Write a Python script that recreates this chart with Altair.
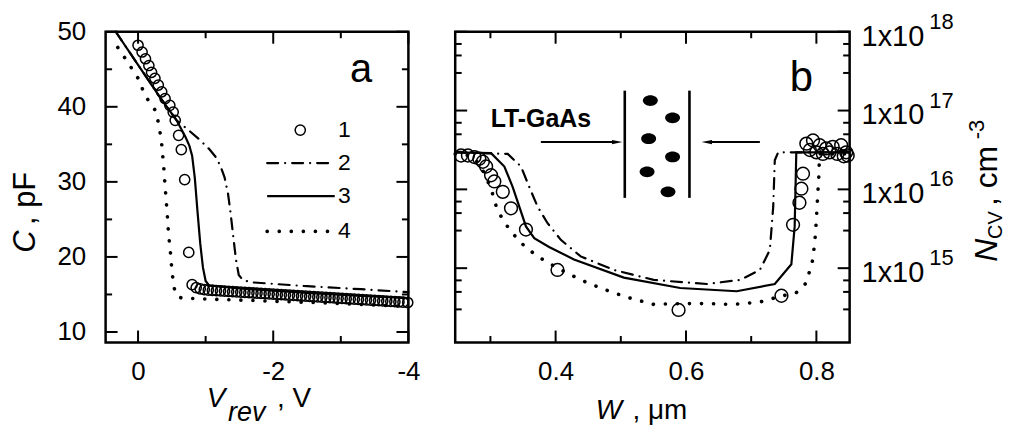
import altair as alt
import pandas as pd

FONT = "Liberation Sans"
NB = "\u00a0"

# ================= Panel a : C vs V_rev =================
a_meas_v = [0.0, -0.06, -0.11, -0.16, -0.20, -0.25, -0.30, -0.35, -0.40, -0.47, -0.52, -0.55,
            -0.60, -0.64, -0.69, -0.75, -0.80,
            -0.86, -0.92, -0.98, -1.04, -1.10, -1.16, -1.22, -1.28, -1.34, -1.40, -1.46, -1.52,
            -1.58, -1.64, -1.70, -1.76, -1.82, -1.88, -1.94, -2.00, -2.06, -2.12, -2.18, -2.24,
            -2.30, -2.36, -2.42, -2.48, -2.54, -2.60, -2.66, -2.72, -2.78, -2.84, -2.90, -2.96,
            -3.02, -3.08, -3.14, -3.20, -3.26, -3.32, -3.38, -3.44, -3.50, -3.56, -3.62, -3.68,
            -3.74, -3.80, -3.86, -3.92, -3.99]
a_meas_c = [48.2, 47.3, 46.4, 45.5, 44.6, 43.8, 42.9, 42.0, 41.1, 40.2, 39.3, 38.2,
            36.2, 34.3, 30.3, 20.6, 16.3,
            15.9, 15.75, 15.65, 15.58, 15.54, 15.50, 15.47, 15.44, 15.40, 15.37, 15.34, 15.30,
            15.27, 15.24, 15.20, 15.17, 15.14, 15.10, 15.07, 15.04, 15.00, 14.97, 14.94, 14.90,
            14.87, 14.84, 14.80, 14.77, 14.74, 14.70, 14.67, 14.64, 14.60, 14.57, 14.54, 14.50,
            14.47, 14.44, 14.40, 14.37, 14.34, 14.30, 14.27, 14.24, 14.20, 14.17, 14.14, 14.10,
            14.07, 14.04, 14.00, 13.97, 13.93]

a_l2_v = [0.33, 0.0, -0.30, -0.57, -0.72, -0.90, -1.05, -1.15, -1.22, -1.28, -1.33, -1.37,
          -1.41, -1.45, -1.49, -1.55, -1.70, -2.50, -3.30, -4.00]
a_l2_c = [50.0, 45.6, 41.6, 38.2, 37.1, 35.7, 34.4, 33.3, 32.1, 30.6, 28.5, 25.8,
          22.6, 19.6, 17.6, 16.9, 16.6, 16.1, 15.7, 15.3]
a_l3_v = [0.33, 0.0, -0.30, -0.57, -0.70, -0.76, -0.80, -0.84, -0.88, -0.92, -0.96, -1.00,
          -1.05, -1.50, -2.50, -3.30, -4.00]
a_l3_c = [50.0, 45.6, 41.6, 38.2, 36.0, 34.8, 33.5, 30.5, 26.0, 21.8, 18.6, 16.8,
          16.2, 15.8, 15.2, 14.8, 14.5]
a_l4_v = [0.30, 0.15, 0.0, -0.11, -0.25, -0.31, -0.35, -0.38, -0.40, -0.43, -0.45, -0.48,
          -0.50, -0.53, -0.57, -0.65, -1.00, -2.00, -3.00, -4.00]
a_l4_c = [47.9, 45.9, 43.8, 41.4, 39.6, 37.6, 35.0, 32.0, 29.4, 26.0, 23.2, 20.5,
          18.3, 16.0, 14.8, 14.5, 14.4, 14.1, 13.8, 13.4]

a_x_major = [0, -2, -4]
a_x_minor = [-1, -3]
a_y_major = [10, 20, 30, 40, 50]
a_y_minor = [15, 25, 35, 45]

a_leg_rows = [36.9, 32.5, 28.1, 23.4]
a_leg_labels = ["1", "2", "3", "4"]
a_leg_line_from = -1.91
a_leg_line_to = -2.91
a_leg_circle_v = -2.40
a_leg_label_v = -2.96
a_letter = {"t": "a", "x": -3.30, "y": 43.3}

# ================= Panel b : N_CV vs W =================
b_meas_w = [0.255, 0.2655, 0.2756, 0.283, 0.2884, 0.2934, 0.301, 0.306, 0.319, 0.3316,
            0.3545, 0.4029, 0.5886, 0.7464, 0.7642, 0.774, 0.777, 0.7795,
            0.7846, 0.790, 0.7948, 0.800, 0.805, 0.810, 0.815, 0.820, 0.825, 0.832,
            0.838, 0.842, 0.8457, 0.848]
b_meas_n = [2.69e16, 2.69e16, 2.57e16, 2.45e16, 2.24e16, 1.95e16, 1.51e16, 1.26e16, 9.3e15, 5.75e15,
            3.09e15, 9.5e14, 2.95e14, 4.47e14, 3.55e15, 6.76e15, 1.02e16, 1.58e16,
            3.80e16, 3.16e16, 4.17e16, 2.95e16, 3.63e16, 2.82e16, 3.31e16, 2.95e16, 3.47e16, 2.82e16,
            3.63e16, 2.63e16, 2.95e16, 2.69e16]

b_l2_w = [0.246, 0.3265, 0.3469, 0.3596, 0.3724, 0.3877, 0.408, 0.4385, 0.4894, 0.5505,
          0.632, 0.6831, 0.7133, 0.7286, 0.7338, 0.7362, 0.7414, 0.851]
b_l2_n = [2.95e16, 2.82e16, 1.95e16, 1.07e16, 6.03e15, 3.72e15, 2.29e15, 1.41e15, 9.5e14, 7.1e14,
          6.3e14, 7.1e14, 9.5e14, 1.70e15, 6.03e15, 2.34e16, 2.95e16, 2.95e16]
b_l3_w = [0.246, 0.301, 0.3214, 0.3342, 0.3443, 0.3545, 0.3672, 0.390, 0.4282, 0.5046,
          0.5911, 0.6777, 0.7362, 0.7616, 0.7667, 0.7692, 0.851]
b_l3_n = [2.95e16, 2.88e16, 1.95e16, 1.07e16, 6.03e15, 3.39e15, 2.40e15, 1.86e15, 1.29e15, 7.6e14,
          5.6e14, 5.1e14, 6.3e14, 1.12e15, 3.39e15, 2.95e16, 2.95e16]
b_l4_w = [0.246, 0.27, 0.285, 0.295, 0.301, 0.3087, 0.319, 0.3342, 0.352, 0.3724,
          0.403, 0.4385, 0.474, 0.5098, 0.5505, 0.5911, 0.632, 0.6724, 0.7133, 0.7438,
          0.7692, 0.7845, 0.7946, 0.7987, 0.8013, 0.8037, 0.8048, 0.851]
b_l4_n = [2.82e16, 2.69e16, 2.0e16, 1.32e16, 1.02e16, 6.17e15, 4.07e15, 2.75e15, 1.91e15, 1.41e15,
          1.0e15, 7.1e14, 5.4e14, 4.27e14, 3.47e14, 3.55e14, 3.55e14, 3.47e14, 3.72e14, 4.37e14,
          4.9e14, 6.5e14, 1.29e15, 2.75e15, 6.6e15, 1.45e16, 2.82e16, 2.82e16]

b_x_major = [0.4, 0.6, 0.8]
b_x_minor = [0.3, 0.5, 0.7]
b_y_major = [1e15, 1e16, 1e17, 1e18]
b_y_minor = [3e14, 5e14, 7e14, 3e15, 5e15, 7e15, 3e16, 5e16, 7e16, 3e17, 5e17, 7e17]
b_y_labels_exp = ["15", "16", "17", "18"]

# inset sketch (in data coordinates of panel b)
b_wall_w = [0.5061, 0.6053]
b_wall_top = 1.79e17
b_wall_bottom = 7.8e15
b_dots_w = [0.5453, 0.5794, 0.5427, 0.5794, 0.5403, 0.5724]
b_dots_n = [1.34e17, 8.1e16, 4.4e16, 2.58e16, 1.67e16, 9.3e15]
b_arrow_n = 3.98e16
b_arrow_left = (0.3774, 0.4945)
b_arrow_right = (0.7133, 0.6319)
b_label = {"t": "LT-GaAs", "x": 0.3774, "y": 7.9e16}
b_letter = {"t": "b", "x": 0.777, "y": 1.78e17}

# ================= geometry / styles =================
A_W, A_H = 304, 312
B_W, B_H = 396, 312
MAJ, MIN = 12, 6.5

STYLE = {
    "2": dict(strokeDash=[11, 7, 0.1, 7], strokeWidth=2.2, strokeCap="round"),
    "3": dict(strokeWidth=2.2),
    "4": dict(strokeDash=[0.1, 12], strokeWidth=3.6, strokeCap="round"),
}

xa = alt.Scale(domain=[0.48, -4.0], nice=False, zero=False)
ya = alt.Scale(domain=[8.6, 50.0], nice=False, zero=False)
xb = alt.Scale(domain=[0.246, 0.851], nice=False, zero=False)
yb = alt.Scale(type="log", domain=[1.14e14, 1e18], nice=False)

ax_xa = alt.Axis(values=a_x_major, ticks=False, tickSize=0, domain=False, grid=False,
                 labelFontSize=26, labelPadding=16, labelFlush=False,
                 labelExpr="toString(datum.value)", title=None)
ax_ya = alt.Axis(values=a_y_major, ticks=False, tickSize=0, domain=False, grid=False,
                 labelFontSize=26, labelPadding=20, title=None)
ax_xb = alt.Axis(values=b_x_major, ticks=False, tickSize=0, domain=False, grid=False,
                 labelFontSize=26, labelPadding=16, labelFlush=False, format=".1f", title=None)

PA = dict(xs=xa, xax=ax_xa, ys=ya, yax=ax_ya)
PB = dict(xs=xb, xax=ax_xb, ys=yb, yax=None)


def X(P, field="x"):
    return alt.X(f"{field}:Q", scale=P["xs"], axis=P["xax"])


def Y(P, field="y"):
    return alt.Y(f"{field}:Q", scale=P["ys"], axis=P["yax"])


def line_layer(xs, ys, style, P):
    df = pd.DataFrame({"x": xs, "y": ys, "i": list(range(len(xs)))})
    return alt.Chart(df).mark_line(color="black", **STYLE[style]).encode(
        x=X(P), y=Y(P), order="i:Q")


def circles(xs, ys, P, size):
    return alt.Chart(pd.DataFrame({"x": xs, "y": ys})).mark_point(
        shape="circle", filled=False, size=size, strokeWidth=1.5, color="black", opacity=1
    ).encode(x=X(P), y=Y(P))


def tick_layers(xmaj, xmin, ymaj, ymin, P, W, H):
    out = []
    for vals, L in ((xmaj, MAJ), (xmin, MIN)):
        base = alt.Chart(pd.DataFrame({"x": vals})).mark_rule(color="black", strokeWidth=2)
        out.append(base.encode(x=X(P), y=alt.value(H), y2=alt.value(H - L)))
        out.append(base.encode(x=X(P), y=alt.value(0), y2=alt.value(L)))
    for vals, L in ((ymaj, MAJ), (ymin, MIN)):
        base = alt.Chart(pd.DataFrame({"y": vals})).mark_rule(color="black", strokeWidth=2)
        out.append(base.encode(y=Y(P), x=alt.value(0), x2=alt.value(L)))
        out.append(base.encode(y=Y(P), x=alt.value(W), x2=alt.value(W - L)))
    return out


def ptext(text, x, y, size, style="normal", weight="normal", angle=0, align="left"):
    return alt.Chart(pd.DataFrame({"t": [text]})).mark_text(
        font=FONT, fontSize=size, fontStyle=style, fontWeight=weight, angle=angle,
        align=align, baseline="alphabetic", color="black"
    ).encode(x=alt.value(x), y=alt.value(y), text="t:N")


# ---------------- panel a layers ----------------
a_leg_lines = []
for lab, row in zip(a_leg_labels[1:], a_leg_rows[1:]):
    df = pd.DataFrame({"x": [a_leg_line_from], "x2": [a_leg_line_to], "y": [row]})
    a_leg_lines.append(alt.Chart(df).mark_rule(color="black", **STYLE[lab]).encode(
        x=X(PA), x2="x2:Q", y=Y(PA)))

a_leg_text = alt.Chart(pd.DataFrame({"x": [a_leg_label_v] * 4, "y": a_leg_rows, "t": a_leg_labels})).mark_text(
    font=FONT, fontSize=23, align="left", baseline="middle", color="black"
).encode(x=X(PA), y=Y(PA), text="t:N")

a_letter_t = alt.Chart(pd.DataFrame([a_letter])).mark_text(
    font=FONT, fontSize=40, align="center", baseline="alphabetic", color="black"
).encode(x=X(PA), y=Y(PA), text="t:N")

panel_a = alt.layer(
    line_layer(a_l4_v, a_l4_c, "4", PA),
    line_layer(a_l2_v, a_l2_c, "2", PA),
    line_layer(a_l3_v, a_l3_c, "3", PA),
    circles(a_meas_v, a_meas_c, PA, 105),
    *tick_layers(a_x_major, a_x_minor, a_y_major, a_y_minor, PA, A_W, A_H),
    circles([a_leg_circle_v], [a_leg_rows[0]], PA, 105),
    *a_leg_lines, a_leg_text, a_letter_t,
    # axis titles
    ptext("V", 101.5, 377, 28, style="italic"),
    ptext("rev", 123, 390.5, 27, style="italic"),
    ptext("," + NB + "V", 172, 377, 28),
    ptext("C", -71, 222, 31, style="italic", angle=270),
    ptext("," + NB + "pF", -71, 194, 31, angle=270),
).properties(width=A_W, height=A_H)

# ---------------- panel b layers ----------------
b_ylab = alt.Chart(pd.DataFrame({"y": b_y_major})).mark_text(
    text="1x10", font=FONT, fontSize=29, align="left", baseline="middle", dy=5, color="black"
).encode(x=alt.value(B_W + 12), y=Y(PB))
b_yexp = alt.Chart(pd.DataFrame({"y": b_y_major, "e": b_y_labels_exp})).mark_text(
    font=FONT, fontSize=22, align="left", baseline="alphabetic", dy=-3, color="black"
).encode(x=alt.value(B_W + 80), y=Y(PB), text="e:N")

b_walls = alt.Chart(pd.DataFrame({"x": b_wall_w, "y": [b_wall_top] * 2, "y2": [b_wall_bottom] * 2})).mark_rule(
    color="black", strokeWidth=2.6
).encode(x=X(PB), y=Y(PB), y2="y2:Q")

b_dots = alt.Chart(pd.DataFrame({"x": b_dots_w, "y": b_dots_n})).mark_point(
    shape="M -1 0 A 1 0.72 0 1 0 1 0 A 1 0.72 0 1 0 -1 0 Z", filled=True, size=225, color="black", opacity=1
).encode(x=X(PB), y=Y(PB))

b_arrow_shafts = alt.Chart(pd.DataFrame({
    "x": [b_arrow_left[0], b_arrow_right[0]], "x2": [b_arrow_left[1], b_arrow_right[1]],
    "y": [b_arrow_n, b_arrow_n]})).mark_rule(color="black", strokeWidth=2).encode(
    x=X(PB), x2="x2:Q", y=Y(PB))
b_head_r = alt.Chart(pd.DataFrame({"x": [b_arrow_left[1]], "y": [b_arrow_n]})).mark_point(
    shape="M -1 -0.42 L 1 0 L -1 0.42 Z", filled=True, size=110, color="black", opacity=1
).encode(x=X(PB), y=Y(PB))
b_head_l = alt.Chart(pd.DataFrame({"x": [b_arrow_right[1]], "y": [b_arrow_n]})).mark_point(
    shape="M 1 -0.42 L -1 0 L 1 0.42 Z", filled=True, size=110, color="black", opacity=1
).encode(x=X(PB), y=Y(PB))

b_label_t = alt.Chart(pd.DataFrame([b_label])).mark_text(
    font=FONT, fontSize=25, fontWeight="bold", align="center", baseline="middle", color="black"
).encode(x=X(PB), y=Y(PB), text="t:N")
b_letter_t = alt.Chart(pd.DataFrame([b_letter])).mark_text(
    font=FONT, fontSize=42, align="center", baseline="alphabetic", color="black"
).encode(x=X(PB), y=Y(PB), text="t:N")

panel_b = alt.layer(
    line_layer(b_l4_w, b_l4_n, "4", PB),
    line_layer(b_l2_w, b_l2_n, "2", PB),
    line_layer(b_l3_w, b_l3_n, "3", PB),
    circles(b_meas_w, b_meas_n, PB, 165),
    *tick_layers(b_x_major, b_x_minor, b_y_major, b_y_minor, PB, B_W, B_H),
    b_ylab, b_yexp, b_walls, b_dots, b_arrow_shafts, b_head_r, b_head_l, b_label_t, b_letter_t,
    # axis titles
    ptext("W", 141, 389, 28, style="italic"),
    ptext("," + NB + "\u03bcm", 178, 389, 28),
    ptext("N", B_W + 148, 231, 32, style="italic", angle=270),
    ptext("CV", B_W + 153, 208, 20, angle=270),
    ptext("," + NB + "cm", B_W + 148, 175, 32, angle=270),
    ptext("-3", B_W + 135, 108, 22, angle=270),
).properties(width=B_W, height=B_H)

chart = alt.hconcat(panel_a, panel_b, spacing=47, bounds="flush").properties(
    padding={"left": 0, "top": 0, "right": 0, "bottom": 0}
).configure(font=FONT).configure_view(stroke="black", strokeWidth=2.5).configure_axis(
    labelColor="black", labelFont=FONT
)

chart.save("out.html", embed_options={"renderer": "svg", "actions": False})
